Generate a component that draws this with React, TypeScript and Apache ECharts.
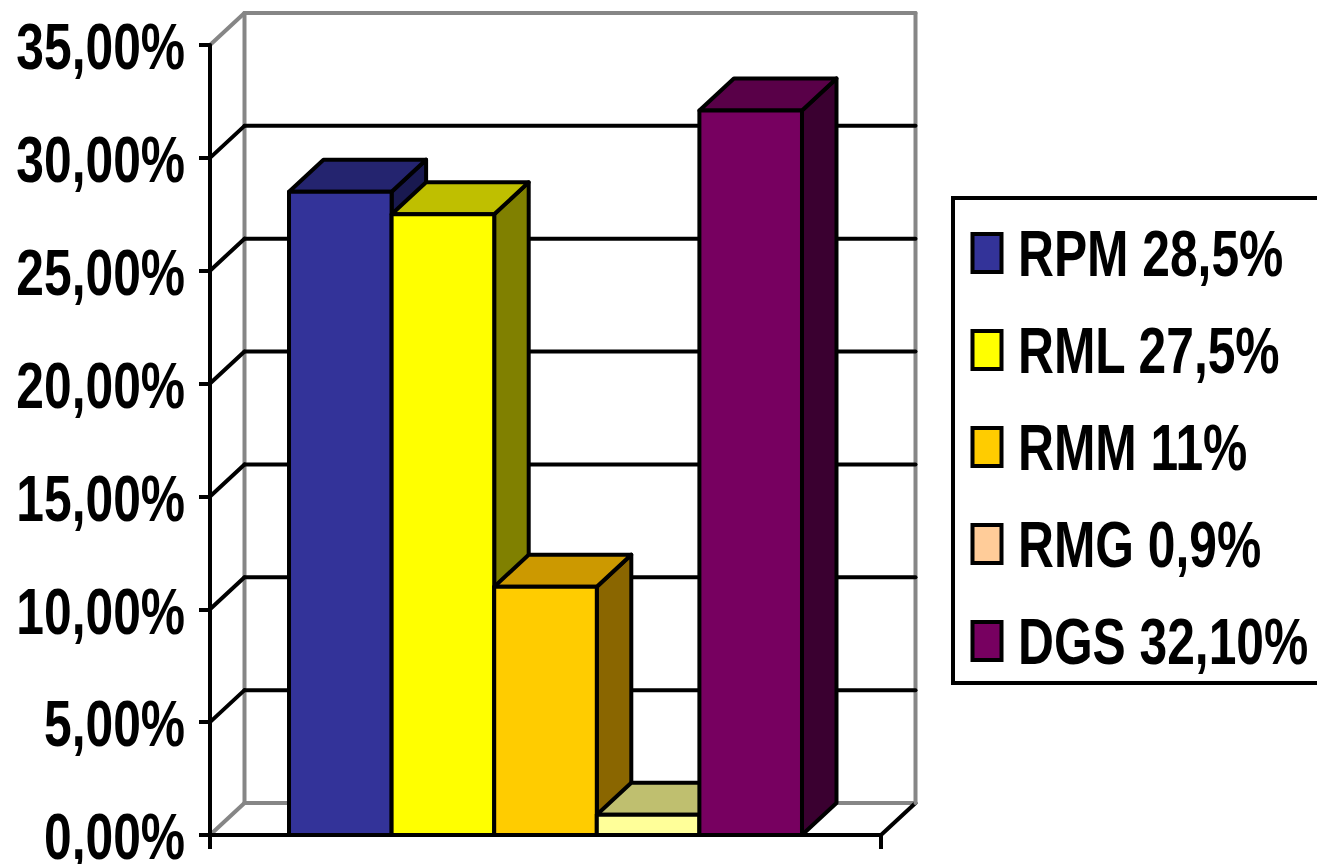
import React, { useEffect, useRef } from "react";
import * as echarts from "echarts";

// Share of each category, in percent
const categoryNames = ["RPM", "RML", "RMM", "RMG", "DGS"];
const categoryValues = [28.5, 27.5, 11, 0.9, 32.1];
const legendLabels = ["RPM 28,5%", "RML 27,5%", "RMM 11%", "RMG 0,9%", "DGS 32,10%"];
const yTicks = [0, 5, 10, 15, 20, 25, 30, 35];

// Box colours: front face, top face, side face, legend swatch
const frontColors = ["#333399", "#FFFF00", "#FFCC00", "#FFFF99", "#770060"];
const topColors = ["#24246F", "#BFBF00", "#CC9900", "#BFBF6F", "#590048"];
const sideColors = ["#191950", "#808000", "#8A6600", "#808050", "#3A0030"];
const swatchColors = ["#333399", "#FFFF00", "#FFCC00", "#FFCC99", "#770060"];

const FONT = "'Liberation Sans', Arial, sans-serif";
const FONT_SIZE = 64;
const SQUEEZE = 0.777; // the type is set in a narrow cut of the bold face
const DEPTH_X = 34.5;
const DEPTH_Y = 32;
const BAR_SHARE = 0.1529;
const WALL = "#868686";
const STROKE = 4;

const seg = (x1: number, y1: number, x2: number, y2: number, stroke: string, lineWidth: number) => ({
  type: "line",
  shape: { x1, y1, x2, y2 },
  style: { stroke, lineWidth, lineCap: "round" },
});

const narrowText = (text: string, x: number, y: number, textAlign: string) => ({
  type: "text",
  x,
  y,
  scaleX: SQUEEZE,
  style: {
    text,
    fill: "#000",
    fontFamily: FONT,
    fontWeight: "bold",
    fontSize: FONT_SIZE,
    lineHeight: 50,
    textAlign,
    textVerticalAlign: "middle",
  },
});

// Back wall, floor and tick label of the 3D frame, one group per y tick
function renderFrame(_: any, api: any) {
  const tick = api.value(1);
  const [, y] = api.coord([0, tick]);
  const band = api.size([1, 0])[0];
  const [cx] = api.coord([0, 0]);
  const left = cx - band / 2;
  const right = cx + band / 2;
  const outer = tick === 35 || tick === 0;
  const color = outer ? WALL : "#000";
  const children: any[] = [
    seg(left, y, left + DEPTH_X, y - DEPTH_Y, color, STROKE),
    seg(left + DEPTH_X, y - DEPTH_Y, right + DEPTH_X, y - DEPTH_Y, color, STROKE),
    narrowText(tick.toFixed(2).replace(".", ",") + "%", left - 25, y + 2, "right"),
  ];
  if (tick === 0) {
    const [, yTop] = api.coord([0, 35]);
    children.push(seg(right, y, right + DEPTH_X, y - DEPTH_Y, "#000", STROKE));
    children.push(seg(left + DEPTH_X, yTop - DEPTH_Y, left + DEPTH_X, y - DEPTH_Y, WALL, STROKE));
    children.push(seg(right + DEPTH_X, yTop - DEPTH_Y, right + DEPTH_X, y - DEPTH_Y, WALL, STROKE));
  }
  return { type: "group", children };
}

// One extruded box: side and top faces first, front face over them
function makeBoxRenderer(index: number) {
  return (_: any, api: any) => {
    const [cx, yTop] = api.coord([0, api.value(1)]);
    const [, yBase] = api.coord([0, 0]);
    const w = api.size([1, 0])[0] * BAR_SHARE;
    const x0 = cx + (index - 2.5) * w;
    const x1 = x0 + w;
    const edge = { stroke: "#000", lineWidth: STROKE, lineJoin: "round" };
    return {
      type: "group",
      children: [
        {
          type: "polygon",
          shape: {
            points: [
              [x1, yTop],
              [x1 + DEPTH_X, yTop - DEPTH_Y],
              [x1 + DEPTH_X, yBase - DEPTH_Y],
              [x1, yBase],
            ],
          },
          style: { fill: sideColors[index], ...edge },
        },
        {
          type: "polygon",
          shape: {
            points: [
              [x0, yTop],
              [x0 + DEPTH_X, yTop - DEPTH_Y],
              [x1 + DEPTH_X, yTop - DEPTH_Y],
              [x1, yTop],
            ],
          },
          style: { fill: topColors[index], ...edge },
        },
        {
          type: "rect",
          shape: { x: x0, y: yTop, width: w, height: yBase - yTop },
          style: { fill: frontColors[index], ...edge },
        },
      ],
    };
  };
}

// Boxed key on the right, running off the edge of the page
const LEGEND_LEFT = 953;
const LEGEND_TOP = 198;
const LEGEND_HEIGHT = 485;
const LEGEND_FIRST = 253;
const LEGEND_STEP = 97;

function legendGraphics() {
  const items: any[] = [
    {
      type: "rect",
      shape: { x: LEGEND_LEFT, y: LEGEND_TOP, width: 420, height: LEGEND_HEIGHT },
      style: { fill: "#fff", stroke: "#000", lineWidth: STROKE },
    },
  ];
  legendLabels.forEach((label, i) => {
    const cy = LEGEND_FIRST + i * LEGEND_STEP;
    items.push({
      type: "rect",
      shape: { x: 972.5, y: cy - 19, width: 29, height: 38 },
      style: { fill: swatchColors[i], stroke: "#000", lineWidth: STROKE },
    });
    items.push(narrowText(label, 1018, cy + 1, "left"));
  });
  return items;
}

export default function App() {
  const ref = useRef<HTMLDivElement>(null);

  useEffect(() => {
    const chart = echarts.init(ref.current!, null, { renderer: "svg" });
    chart.setOption({
      animation: false,
      backgroundColor: "#fff",
      grid: { left: 210, top: 45, width: 671, height: 790, containLabel: false, outerBoundsMode: "none" },
      xAxis: {
        type: "category",
        data: [""],
        z: 6,
        axisLine: { lineStyle: { color: "#000", width: STROKE } },
        axisTick: { show: true, length: 14, lineStyle: { color: "#000", width: STROKE } },
        axisLabel: { show: false },
        splitLine: { show: false },
      },
      yAxis: {
        type: "value",
        min: 0,
        max: 35,
        interval: 5,
        z: 6,
        axisLine: { show: true, lineStyle: { color: "#000", width: STROKE } },
        axisTick: { show: true, length: 11, lineStyle: { color: "#000", width: STROKE } },
        axisLabel: { show: false },
        splitLine: { show: false },
      },
      graphic: { elements: legendGraphics() },
      series: [
        {
          type: "custom",
          name: "frame",
          silent: true,
          renderItem: renderFrame,
          data: yTicks.map((t) => [0, t]),
          encode: { x: 0, y: 1 },
        },
        ...categoryNames.map((name, i) => ({
          type: "custom",
          name,
          silent: true,
          renderItem: makeBoxRenderer(i),
          data: [[0, categoryValues[i]]],
          encode: { x: 0, y: 1 },
        })),
      ],
    });
    return () => chart.dispose();
  }, []);

  return <div ref={ref} style={{ position: "absolute", left: 0, top: 0, width: 1317, height: 864 }} />;
}
